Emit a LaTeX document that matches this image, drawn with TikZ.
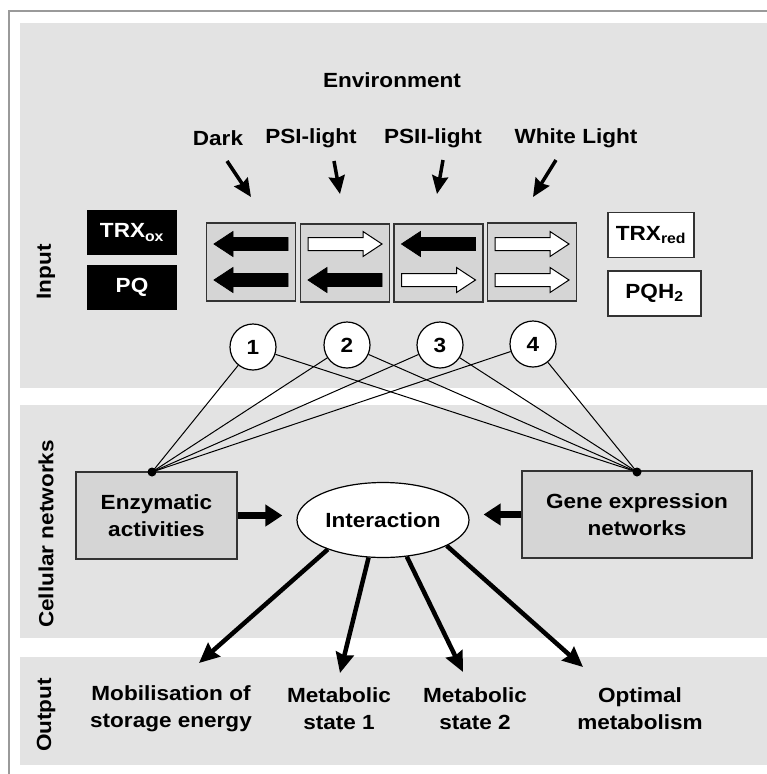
\documentclass[tikz,border=0pt]{standalone}
\usepackage{fontspec}
\setmainfont{Liberation Sans}[FakeStretch=1.1]
\usetikzlibrary{arrows.meta,shapes.geometric}

\definecolor{panelgray}{HTML}{E3E3E3}
\definecolor{boxgray}{HTML}{D5D5D5}
\definecolor{edgegray}{HTML}{333333}
\definecolor{framegray}{HTML}{9A9A9A}

\tikzset{
  lbl/.style={font=\bfseries\fontsize{20.5}{27}\selectfont, align=center, inner sep=0pt},
  statebox/.style={draw=edgegray, line width=1.4pt, fill=boxgray, minimum width=89pt, minimum height=78pt, inner sep=0pt},
  redoxbox/.style={lbl, line width=1.4pt, minimum height=45pt, inner sep=0pt},
  netbox/.style={lbl, draw=edgegray, line width=1.4pt, fill=boxgray, minimum height=87pt},
  case/.style={lbl, circle, draw, fill=white, line width=1.2pt, minimum size=46pt},
  lightarr/.style={line width=3.5pt, -{Stealth[length=18pt,width=16pt,inset=2pt]}},
  feedarr/.style={line width=7pt, -{Triangle[length=17pt,width=21pt]}, shorten >=14pt},
  outarr/.style={line width=4.5pt, -{Stealth[length=20pt,width=18pt,inset=2pt]}},
  link/.style={line width=1pt},
  % block arrows inside the state boxes
  leftarr/.pic={\filldraw[fill=black, draw=black, line width=0.8pt]
    (-37,0) -- (-18,-12.5) -- (-18,-6.5) -- (37,-6.5) -- (37,6.5) -- (-18,6.5) -- (-18,12.5) -- cycle;},
  rightarr/.pic={\filldraw[fill=white, draw=black, line width=1pt]
    (37,0) -- (18,-12.5) -- (18,-6.5) -- (-37,-6.5) -- (-37,6.5) -- (18,6.5) -- (18,12.5) -- cycle;}
}

\begin{document}
\begin{tikzpicture}[x=1pt,y=-1pt]
\useasboundingbox (0,0) rectangle (767,774);

% panels and frame
\fill[panelgray] (20,23) rectangle (767,388);
\fill[panelgray] (20,405) rectangle (767,638);
\fill[panelgray] (20,657) rectangle (767,765);
\draw[framegray, line width=1.2pt] (9,774) -- (9,11) -- (767,11);

\node[lbl, rotate=90] (inp) at (46,272) {Input};
\node[lbl, rotate=90] (cel) at (46,534) {Cellular networks};
\node[lbl, rotate=90] (outp) at (46,715) {Output};

% environment
\node[lbl] (env) at (392,80) {Environment};
\node[lbl] (dark) at (218,138) {Dark};
\node[lbl] (psi) at (311,138) {PSI-light};
\node[lbl] (psii) at (433,138) {PSII-light};
\node[lbl] (wl) at (576,138) {White Light};

\node[statebox] (st1) at (251,262) {};
\node[statebox] (st2) at (345,263) {};
\node[statebox] (st3) at (438.5,263) {};
\node[statebox] (st4) at (532,262) {};

\coordinate (a1) at (227,161); \coordinate (b1) at (251,197);
\coordinate (a2) at (334,161); \coordinate (b2) at (340,194);
\coordinate (a3) at (443,160); \coordinate (b3) at (437,194);
\coordinate (a4) at (556,160); \coordinate (b4) at (533,197);
\draw[lightarr] (a1) -- (b1);
\draw[lightarr] (a2) -- (b2);
\draw[lightarr] (a3) -- (b3);
\draw[lightarr] (a4) -- (b4);

\path (st1) ++(0,-18) pic{leftarr} (st1) ++(0,18) pic{leftarr};
\path (st2) ++(0,-19) pic{rightarr} (st2) ++(0,17) pic{leftarr};
\path (st3) ++(0,-19) pic{leftarr} (st3) ++(0,17) pic{rightarr};
\path (st4) ++(0,-18) pic{rightarr} (st4) ++(0,18) pic{rightarr};

% redox states
\node[redoxbox, fill=black, text=white, minimum width=90pt] (trxox) at (132,232.5) {TRX\textsubscript{ox}};
\node[redoxbox, fill=black, text=white, minimum width=90pt] (pq) at (132,287.5) {PQ};
\node[redoxbox, draw=edgegray, fill=white, minimum width=86pt] (trxred) at (651,235) {TRX\textsubscript{red}};
\node[redoxbox, draw=edgegray, fill=white, minimum width=93pt] (pqh) at (654.5,293.5) {PQH\textsubscript{2}};

% cases
\node[case] (c1) at (253,347) {1};
\node[case] (c2) at (347,345) {2};
\node[case] (c3) at (440,345) {3};
\node[case] (c4) at (533,344) {4};

% cellular networks
\node[netbox, minimum width=161pt] (enz) at (156.5,515.5) {Enzymatic\\activities};
\node[netbox, minimum width=230pt] (gene) at (637,514.5) {Gene expression\\networks};
\node[lbl, ellipse, draw, fill=white, line width=1.2pt, minimum width=172pt, minimum height=75pt] (inter) at (383,520) {Interaction};

\coordinate (dL) at (152,472);
\coordinate (dR) at (637,472);
\foreach \c in {c1,c2,c3,c4}{
  \draw[link] (\c) -- (dL);
  \draw[link] (\c) -- (dR);
}
\fill (dL) circle (4.5pt);
\fill (dR) circle (4.5pt);

\draw[feedarr] (enz.east) -- (enz.east -| inter.west);
\draw[feedarr] (gene.west) -- (gene.west -| inter.east);

% outputs
\node[lbl] (mob) at (171,709) {Mobilisation of\\storage energy};
\node[lbl] (ms1) at (339,709) {Metabolic\\state 1};
\node[lbl] (ms2) at (475,709) {Metabolic\\state 2};
\node[lbl] (opt) at (640,709) {Optimal\\metabolism};

\coordinate (o1) at (199,663);
\coordinate (o2) at (340,673);
\coordinate (o3) at (463,672);
\coordinate (o4) at (583,667);
\draw[outarr] (inter.208) -- (o1);
\draw[outarr] (inter.249) -- (o2);
\draw[outarr] (inter.303) -- (o3);
\draw[outarr] (inter.338) -- (o4);
\end{tikzpicture}
\end{document}
